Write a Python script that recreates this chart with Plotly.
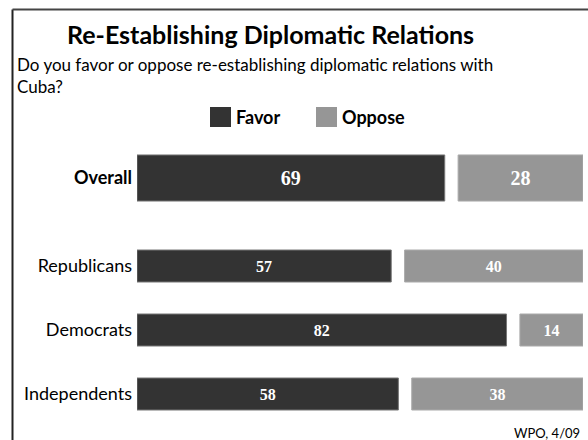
import plotly.graph_objects as go

categories = ["Overall", "Republicans", "Democrats", "Independents"]
favor = [69, 57, 82, 58]
oppose = [28, 40, 14, 38]
tick_labels = ["<b>Overall</b>", "Republicans", "Democrats", "Independents"]

# layout constants
W, H = 588, 440
L, R, T, B = 137, 5, 140, 20
PW, PH = W - L - R, H - T - B
GAP = 0.03
ypos = [0, 1.375, 2.375, 3.375]
widths = [0.72, 0.5, 0.5, 0.5]
tsizes = [20, 16, 16, 16]
DARK, LIGHT = "#333333", "#969696"
FONT = "Lato"


def px(x):
    return (x - L) / PW


def py(y):
    return 1 - (y - T) / PH


fav_len = [f / (f + o) * (1 - GAP) for f, o in zip(favor, oppose)]
opp_len = [o / (f + o) * (1 - GAP) for f, o in zip(favor, oppose)]
opp_base = [fl + GAP for fl in fav_len]

fig = go.Figure()
fig.add_trace(go.Bar(
    y=ypos, x=fav_len, base=[0] * 4, width=widths, orientation="h",
    marker=dict(color=DARK, line=dict(color="#777777", width=1)),
    text=[str(v) for v in favor], textposition="inside", insidetextanchor="middle",
    textfont=dict(family="Liberation Serif", color="white", size=tsizes, weight="bold"),
    name="Favor", showlegend=False, hoverinfo="skip",
))
fig.add_trace(go.Bar(
    y=ypos, x=opp_len, base=opp_base, width=widths, orientation="h",
    marker=dict(color=LIGHT, line=dict(color="#aaaaaa", width=1)),
    text=[str(v) for v in oppose], textposition="inside", insidetextanchor="middle",
    textfont=dict(family="Liberation Serif", color="white", size=tsizes, weight="bold"),
    name="Oppose", showlegend=False, hoverinfo="skip",
))

y_top = (T - 178) / 64
y_bot = (H - B - 178) / 64

fig.update_layout(
    width=W, height=H,
    margin=dict(l=L, r=R, t=T, b=B, pad=0),
    paper_bgcolor="white", plot_bgcolor="white",
    barmode="overlay",
    xaxis=dict(range=[0, 1], visible=False, fixedrange=True),
    yaxis=dict(range=[y_bot, y_top], tickvals=ypos, ticktext=tick_labels,
               showgrid=False, zeroline=False, showline=False, ticks="",
               ticklabelstandoff=4, fixedrange=True,
               tickfont=dict(family=FONT, size=18, color="black")),
    font=dict(family=FONT, color="black"),
    shapes=[
        dict(type="line", xref="paper", yref="paper",
             x0=px(12.5), x1=px(12.5), y0=py(9.5), y1=py(440),
             line=dict(color="#222222", width=2)),
        dict(type="line", xref="paper", yref="paper",
             x0=px(12.5), x1=px(588), y0=py(9.5), y1=py(9.5),
             line=dict(color="#444444", width=2)),
        dict(type="rect", xref="paper", yref="paper",
             x0=px(210), x1=px(231), y0=py(127), y1=py(107),
             line=dict(width=0), fillcolor=DARK),
        dict(type="rect", xref="paper", yref="paper",
             x0=px(316), x1=px(337), y0=py(127), y1=py(107),
             line=dict(width=0), fillcolor=LIGHT),
    ],
    annotations=[
        dict(text="<b>Re-Establishing Diplomatic Relations</b>", xref="paper", yref="paper",
             x=px(270), y=py(34), xanchor="center", yanchor="middle", showarrow=False,
             font=dict(family=FONT, size=25, color="black")),
        dict(text="Do you favor or oppose re-establishing diplomatic relations with<br>Cuba?",
             xref="paper", yref="paper", x=px(15), y=py(52), xanchor="left", yanchor="top",
             align="left", showarrow=False, font=dict(family=FONT, size=17, color="black")),
        dict(text="<b>Favor</b>", xref="paper", yref="paper", x=px(234), y=py(117),
             xanchor="left", yanchor="middle", showarrow=False,
             font=dict(family=FONT, size=18, color="black")),
        dict(text="<b>Oppose</b>", xref="paper", yref="paper", x=px(340), y=py(117),
             xanchor="left", yanchor="middle", showarrow=False,
             font=dict(family=FONT, size=18, color="black")),
        dict(text="WPO, 4/09", xref="paper", yref="paper", x=px(582), y=py(433),
             xanchor="right", yanchor="middle", showarrow=False,
             font=dict(family=FONT, size=13, color="black")),
    ],
)

fig.write_html(
    "out.html", config={"displayModeBar": False},
    post_script=("document.body.style.margin='0';"
                 "document.body.style.overflow='hidden';"
                 "document.documentElement.style.overflow='hidden';"),
)
